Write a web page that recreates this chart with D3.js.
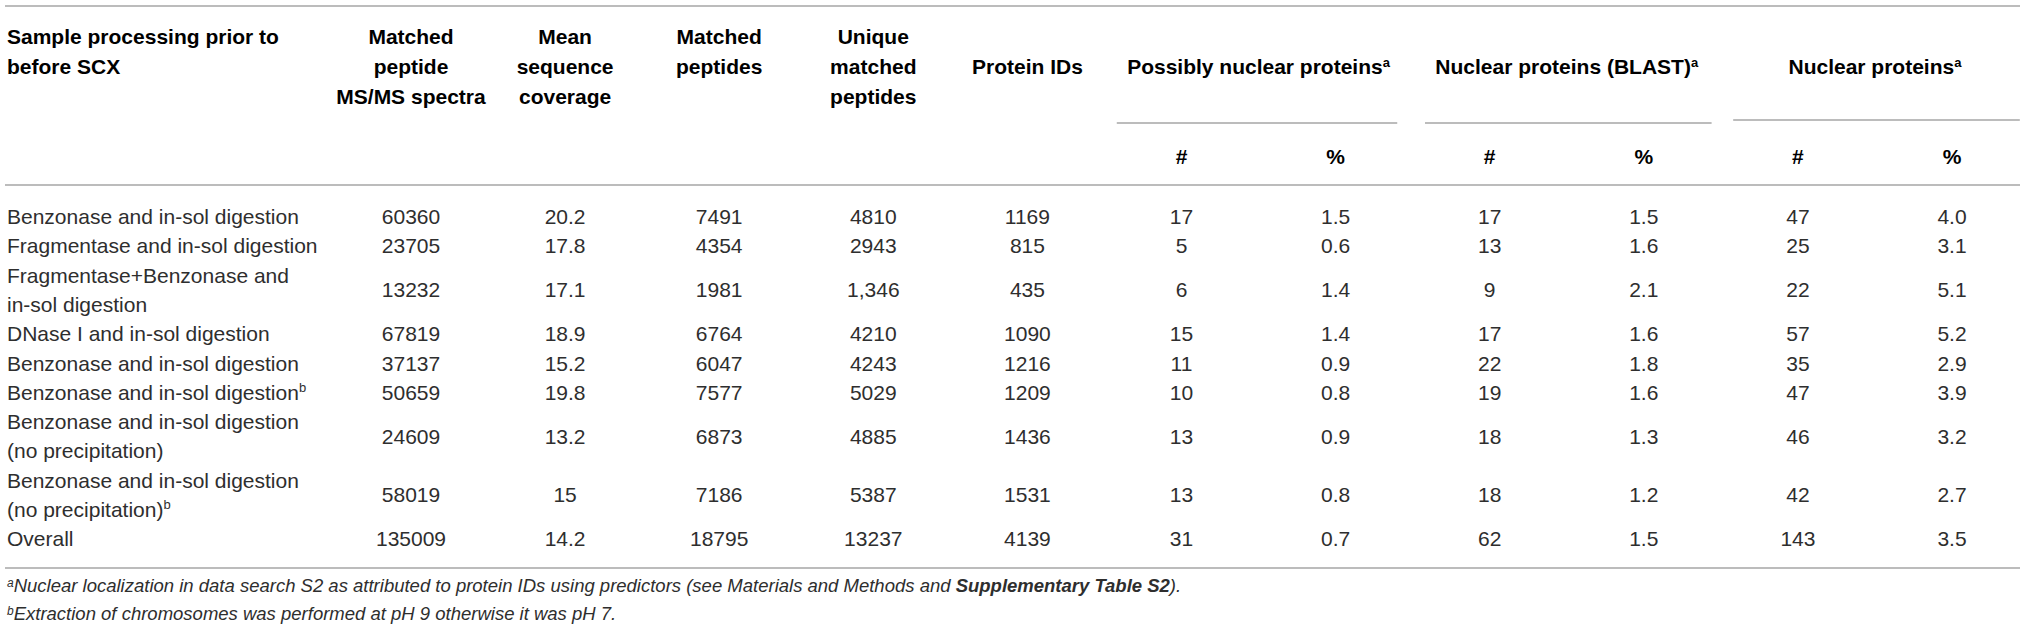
<!DOCTYPE html>
<html>
<head>
<meta charset="utf-8">
<script src="https://cdn.jsdelivr.net/npm/d3@7"></script>
<style>
  body { margin: 0; background: #fff; }
  svg { display: block; font-family: "Liberation Sans", Arial, Helvetica, sans-serif; }
</style>
</head>
<body>
<div id="chart"></div>
<script>
// table content
const rowLabels = [
  [["Benzonase and in-sol digestion"]],
  [["Fragmentase and in-sol digestion"]],
  [["Fragmentase+Benzonase and"], ["in-sol digestion"]],
  [["DNase I and in-sol digestion"]],
  [["Benzonase and in-sol digestion"]],
  [["Benzonase and in-sol digestion", "b"]],
  [["Benzonase and in-sol digestion"], ["(no precipitation)"]],
  [["Benzonase and in-sol digestion"], ["(no precipitation)", "b"]],
  [["Overall"]]
];
const matchedSpectra = ["60360", "23705", "13232", "67819", "37137", "50659", "24609", "58019", "135009"];
const meanCoverage = ["20.2", "17.8", "17.1", "18.9", "15.2", "19.8", "13.2", "15", "14.2"];
const matchedPeptides = ["7491", "4354", "1981", "6764", "6047", "7577", "6873", "7186", "18795"];
const uniquePeptides = ["4810", "2943", "1,346", "4210", "4243", "5029", "4885", "5387", "13237"];
const proteinIDs = ["1169", "815", "435", "1090", "1216", "1209", "1436", "1531", "4139"];
const possiblyN = ["17", "5", "6", "15", "11", "10", "13", "13", "31"];
const possiblyPct = ["1.5", "0.6", "1.4", "1.4", "0.9", "0.8", "0.9", "0.8", "0.7"];
const blastN = ["17", "13", "9", "17", "22", "19", "18", "18", "62"];
const blastPct = ["1.5", "1.6", "2.1", "1.6", "1.8", "1.6", "1.3", "1.2", "1.5"];
const nuclearN = ["47", "25", "22", "57", "35", "47", "46", "42", "143"];
const nuclearPct = ["4.0", "3.1", "5.1", "5.2", "2.9", "3.9", "3.2", "2.7", "3.5"];

const stubHead = ["Sample processing prior to", "before SCX"];
const colHeads = [
  ["Matched", "peptide", "MS/MS spectra"],
  ["Mean", "sequence", "coverage"],
  ["Matched", "peptides"],
  ["Unique", "matched", "peptides"],
  ["Protein IDs"]
];
const groupHeads = ["Possibly nuclear proteins", "Nuclear proteins (BLAST)", "Nuclear proteins"];
const subHeads = ["#", "%"];
const footnotes = [
  ["a", "Nuclear localization in data search S2 as attributed to protein IDs using predictors (see Materials and Methods and ", "Supplementary Table S2", ")."],
  ["b", "Extraction of chromosomes was performed at pH 9 otherwise it was pH 7."]
];

const columns = [matchedSpectra, meanCoverage, matchedPeptides, uniquePeptides, proteinIDs,
  possiblyN, possiblyPct, blastN, blastPct, nuclearN, nuclearPct];

const width = 2032, height = 637;
const fs = 21, lineH = 29.3;
const ink = "#2e2e2e", rule = "#a6a6a6";

const svg = d3.select("#chart").append("svg")
  .attr("width", width).attr("height", height)
  .attr("viewBox", `0 0 ${width} ${height}`);

const x = d3.scalePoint().domain(d3.range(columns.length)).range([411, 1952]);
const step = x.step();

// row positions from cumulative line counts
const starts = [];
let acc = 0;
rowLabels.forEach(r => { starts.push(acc); acc += r.length; });
const y = d3.scaleLinear().domain([0, acc]).range([202, 202 + acc * lineH]);

// header line positions
const hy = d3.scaleLinear().domain([0, 1]).range([37, 67]);

function hline(x1, x2, yy) {
  svg.append("line").attr("x1", x1).attr("x2", x2).attr("y1", yy).attr("y2", yy)
    .attr("stroke", rule).attr("stroke-width", 1.6);
}
hline(5, 2020, 6);
hline(5, 2020, 185);
hline(5, 2020, 568);

// header
const head = svg.append("g").attr("font-weight", "bold").attr("font-size", fs).attr("fill", "#000");
head.selectAll(".stub").data(stubHead).enter().append("text")
  .attr("x", 7).attr("y", (d, i) => hy(i)).attr("dy", "0.35em").text(d => d);

colHeads.forEach((lines, c) => {
  const off = lines.length === 1 ? 1 : 0;
  head.selectAll(null).data(lines).enter().append("text")
    .attr("text-anchor", "middle")
    .attr("x", x(c)).attr("y", (d, i) => hy(i + off)).attr("dy", "0.35em")
    .text(d => d);
});

groupHeads.forEach((g, k) => {
  const c0 = 5 + k * 2, c1 = c0 + 1;
  const cx = (x(c0) + x(c1)) / 2;
  const t = head.append("text").attr("text-anchor", "middle")
    .attr("x", cx).attr("y", hy(1)).attr("dy", "0.35em");
  t.append("tspan").text(g);
  t.append("tspan").attr("font-size", 13).attr("dy", "-0.55em").text("a");
  hline(x(c0) - 0.42 * step, x(c1) + (k === 0 ? 0.4 : 0.44) * step, k === 2 ? 120 : 123);
  subHeads.forEach((s, j) => {
    head.append("text").attr("text-anchor", "middle")
      .attr("x", x(c0 + j)).attr("y", 157).attr("dy", "0.35em").text(s);
  });
});

// body
const body = svg.append("g").attr("font-size", fs).attr("fill", ink);
rowLabels.forEach((lines, r) => {
  lines.forEach((ln, i) => {
    const t = body.append("text").attr("x", 7)
      .attr("y", y(starts[r] + i + 0.5)).attr("dy", "0.35em");
    t.append("tspan").text(ln[0]);
    if (ln[1]) t.append("tspan").attr("font-size", 13).attr("dy", "-0.6em").text(ln[1]);
  });
});

columns.forEach((vals, c) => {
  body.selectAll(null).data(vals).enter().append("text")
    .attr("text-anchor", "middle")
    .attr("x", x(c))
    .attr("y", (d, r) => y(starts[r] + rowLabels[r].length / 2))
    .attr("dy", "0.35em")
    .text(d => d);
});

// footnotes
const foot = svg.append("g").attr("font-size", 18.5).attr("font-style", "italic").attr("fill", ink);
footnotes.forEach((f, i) => {
  const t = foot.append("text").attr("x", 7).attr("y", 592 + i * 28).attr("dy", "0.35em");
  t.append("tspan").attr("font-size", 12).attr("dy", "-0.45em").text(f[0]);
  t.append("tspan").attr("dy", "0.3em").text(f[1]);
  if (f[2]) {
    t.append("tspan").attr("font-weight", "bold").text(f[2]);
    t.append("tspan").text(f[3]);
  }
});
</script>
</body>
</html>
